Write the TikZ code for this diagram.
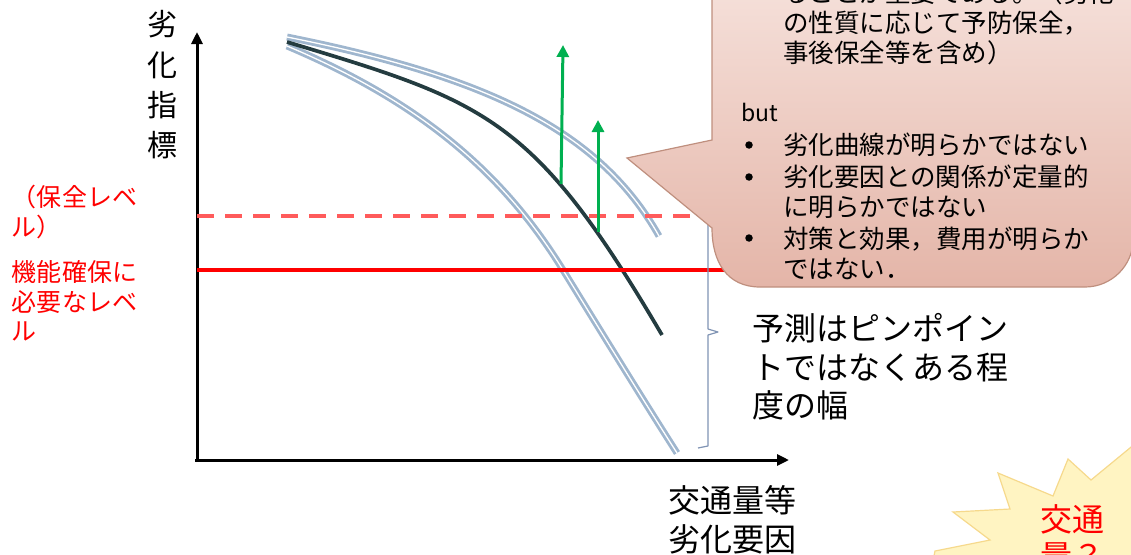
\documentclass[tikz,border=0pt]{standalone}
\usepackage{fontspec}
\setmainfont{Noto Sans CJK JP}
\usetikzlibrary{arrows.meta}
\definecolor{curveblue}{HTML}{9FB6CE}
\definecolor{darkcurve}{HTML}{243C40}
\definecolor{arrgreen}{HTML}{00B050}
\definecolor{dashred}{HTML}{FF5B5B}
\definecolor{bracecol}{HTML}{8094B4}
\definecolor{calltop}{HTML}{F6E2DC}
\definecolor{callbot}{HTML}{E4B5A8}
\definecolor{callborder}{HTML}{BF8F7E}
\definecolor{starfill}{HTML}{FFF4C2}
\definecolor{starborder}{HTML}{F6D98C}
\begin{document}
\begin{tikzpicture}[x=1pt,y=-1pt,
  axisline/.style={draw=black,line width=3pt,-{Triangle[width=11pt,length=12pt]}},
  bandcurve/.style={draw=curveblue,line width=2.8pt,double=white,double distance=1.3pt},
  maincurve/.style={draw=darkcurve,line width=3.7pt},
  uparrow/.style={draw=arrgreen,line width=3pt,-{Triangle[width=12pt,length=12pt]}},
  txt/.style={inner sep=0pt,outer sep=0pt,align=left},
  cjkbig/.style={txt,font=\fontsize{32}{38.5}\selectfont},
  redtxt/.style={txt,text=red,font=\fontsize{25}{29.5}\selectfont},
  calltxt/.style={txt,font=\fontsize{25.5}{30}\selectfont},
  bulletdot/.style={circle,fill=black,inner sep=0pt,minimum size=7.5pt}]
\useasboundingbox (0,0) rectangle (1131,554);
\begin{scope}
\clip (0,0) rectangle (1131,554);

% axes
\coordinate (origin) at (197,462);
\coordinate (ytip) at (197,32);
\coordinate (xorig) at (195,460);
\coordinate (xtip) at (789,460);
\draw[axisline] (origin) -- (ytip);
\draw[axisline] (xorig) -- (xtip);

% deterioration curves
\coordinate (upS) at (287,37);
\coordinate (upE) at (659,236);
\coordinate (loS) at (287,46);
\coordinate (loM) at (563,270);
\coordinate (loE) at (677,453);
\coordinate (mS) at (287,42);
\coordinate (mE) at (662,335);
\draw[bandcurve] (upS) .. controls (487,77) and (599,130) .. (upE);
\draw[bandcurve] (loS) .. controls (415,100) and (500,168) .. (loM) .. controls (600,330) and (640,395) .. (loE);
\draw[maincurve] (mS) .. controls (487,102) and (534,117) .. (mE);

% levels
\coordinate (dashL) at (197,216);
\coordinate (dashR) at (730,216);
\coordinate (solidL) at (197,270);
\coordinate (solidR) at (740,270);
\draw[dashred,line width=4pt,dash pattern=on 17pt off 11pt] (dashL) -- (dashR);
\draw[red,line width=4.5pt] (solidL) -- (solidR);

% green arrows
\coordinate (a1s) at (561,184);
\coordinate (a1e) at (563,45);
\coordinate (a2s) at (598,232);
\coordinate (a2e) at (598,120);
\draw[uparrow] (a1s) -- (a1e);
\draw[uparrow] (a2s) -- (a2e);

% brace
\draw[bracecol,line width=1.2pt,line join=round] (698,448) -- (708,446) -- (708,335) -- (718,332) -- (708,329) -- (708,215);

% callout
\path[draw=callborder,line width=1.2pt,top color=calltop,bottom color=callbot]
  (712,-30) -- (712,140) -- (627,158) -- (712,228)
  .. controls (712,262) and (727,287) .. (760,287) -- (1085,287)
  .. controls (1112,287) and (1133,265) .. (1133,240) -- (1133,-30) -- cycle;

\node[calltxt,anchor=west] (c0) at (783,-7) {ることが重要である。（劣化};
\node[calltxt,anchor=west] (c1) at (783,38) {の性質に応じて予防保全，\\事後保全等を含め）};
\node[txt,anchor=base west,font=\fontsize{23}{28}\selectfont] (but) at (741,121) {but};
\node[bulletdot] (d1) at (749,145) {};
\node[calltxt,anchor=west] (b1) at (783,145) {劣化曲線が明らかではない};
\node[bulletdot] (d2) at (749,177) {};
\node[calltxt,anchor=west] (b2) at (783,192) {劣化要因との関係が定量的\\に明らかではない};
\node[bulletdot] (d3) at (749,238) {};
\node[calltxt,anchor=west] (b3) at (783,253) {対策と効果，費用が明らか\\ではない．};

% star
\path[draw=starborder,line width=1.2pt,fill=starfill]
  (1170,415) -- (1091,480) -- (1068,459) -- (1053,496) -- (998,473) -- (1010,509)
  -- (953,512) -- (990,540) -- (935,551) -- (930,575) -- (1170,575) -- cycle;
\node[txt,anchor=west,text=red,font=\fontsize{32}{37}\selectfont] (star) at (1040,537) {交通\\量？};

% labels
\node[txt,align=center,font=\fontsize{30}{40.3}\selectfont] (ylab) at (162,85) {劣\\化\\指\\標};
\node[redtxt,anchor=west] (lv1) at (12,212) {（保全レベ\\ル）};
\node[redtxt,anchor=west] (lv2) at (12,301) {機能確保に\\必要なレベ\\ル};
\node[cjkbig,anchor=west] (pred) at (752,367) {予測はピンポイン\\トではなくある程\\度の幅};
\node[cjkbig,anchor=west,font=\fontsize{32}{39}\selectfont] (xlab) at (668,520) {交通量等\\劣化要因};
\end{scope}
\end{tikzpicture}
\end{document}
